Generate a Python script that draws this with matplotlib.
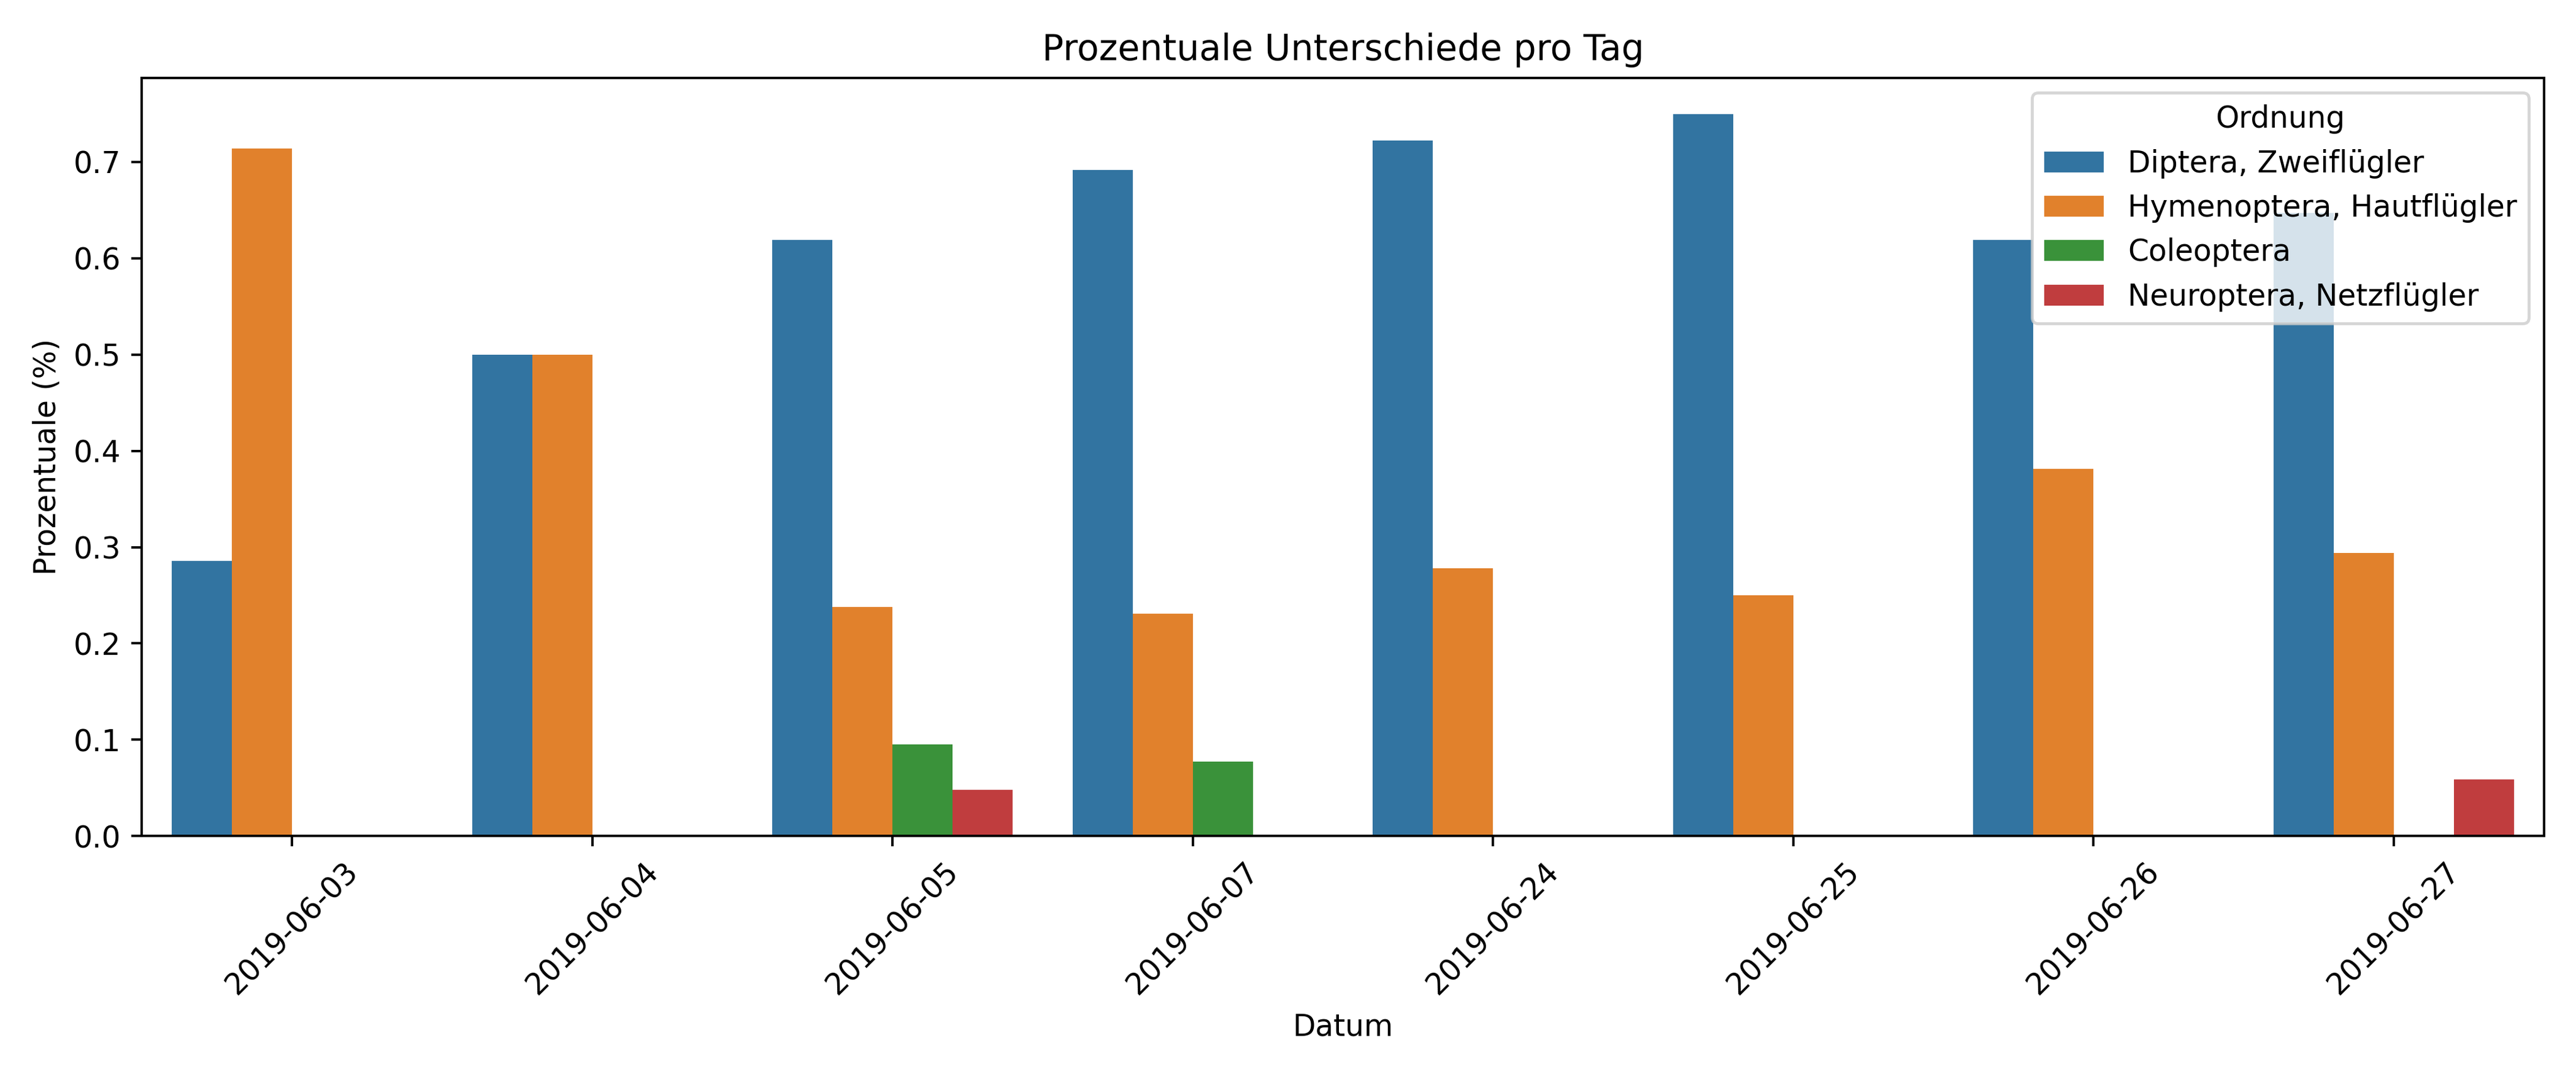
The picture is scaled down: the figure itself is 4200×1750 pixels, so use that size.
import matplotlib
matplotlib.use("Agg")
import matplotlib.pyplot as plt
import numpy as np

# Daten: Anteil je Ordnung pro Tag
datum = ["2019-06-03", "2019-06-04", "2019-06-05", "2019-06-07",
         "2019-06-24", "2019-06-25", "2019-06-26", "2019-06-27"]
ordnungen = ["Diptera, Zweiflügler", "Hymenoptera, Hautflügler",
             "Coleoptera", "Neuroptera, Netzflügler"]
diptera = [0.286, 0.500, 0.619, 0.692, 0.722, 0.750, 0.619, 0.647]
hymenoptera = [0.714, 0.500, 0.238, 0.231, 0.278, 0.250, 0.381, 0.294]
coleoptera = [0.0, 0.0, 0.095, 0.077, 0.0, 0.0, 0.0, 0.0]
neuroptera = [0.0, 0.0, 0.048, 0.0, 0.0, 0.0, 0.0, 0.059]

farben = ["#3274a1", "#e1812c", "#3a923a", "#c03d3e"]

fig, ax = plt.subplots(figsize=(12, 5), dpi=350)

x = np.arange(len(datum))
n = len(ordnungen)
breite = 0.8 / n
for i, (werte, name) in enumerate(zip([diptera, hymenoptera, coleoptera, neuroptera], ordnungen)):
    ax.bar(x - 0.4 + breite * (i + 0.5), werte, width=breite, color=farben[i], label=name)

ax.set_xticks(x)
ax.set_xticklabels(datum, rotation=45)
ax.set_xlim(-0.5, len(datum) - 0.5)
ax.set_xlabel("Datum")
ax.set_ylabel("Prozentuale (%)")
ax.set_title("Prozentuale Unterschiede pro Tag", fontsize=12)
ax.legend(title="Ordnung", loc="upper right")

plt.tight_layout()
plt.savefig("out.png", dpi=350)
